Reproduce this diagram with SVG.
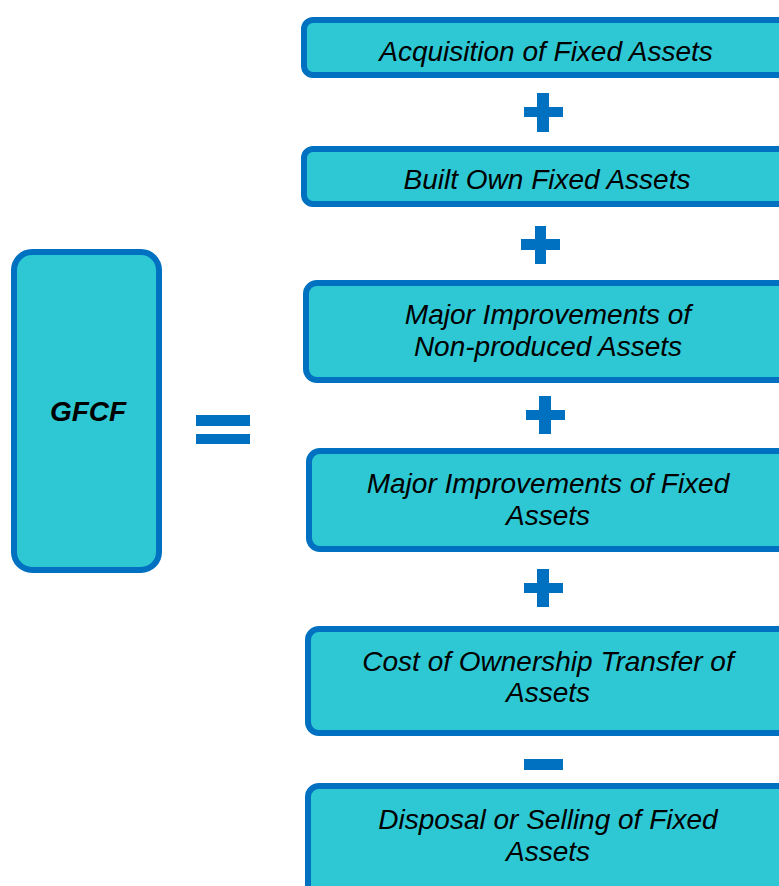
<svg xmlns="http://www.w3.org/2000/svg" width="779" height="886" viewBox="0 0 779 886">
<style>
.box{fill:#2EC8D4;stroke:#0070C0;stroke-width:6}
.op{fill:#0070C0}
.t{font-family:"Liberation Sans",Arial,sans-serif;font-style:italic;font-size:28px;fill:#000;text-anchor:middle}
.b{font-weight:bold}
</style>
<rect width="779" height="886" fill="#fff"/>
<g id="gfcf">
<rect class="box" x="14" y="252" width="145" height="318" rx="18"/>
<text class="t b" x="88" y="421">GFCF</text>
</g>
<g id="connectors">
<rect class="op" x="196" y="415" width="54" height="11"/>
<rect class="op" x="196" y="434" width="54" height="10"/>
<path class="op" d="M537 93h12v14h14v10h-14v15h-12v-15h-13v-10h13z"/>
<path class="op" d="M535 226h11v13h14v11h-14v14h-11v-14h-14v-11h14z"/>
<path class="op" d="M539 396h12v14h14v10h-14v14h-12v-14h-13v-10h13z"/>
<path class="op" d="M537 569h12v14h14v10h-14v14h-12v-14h-13v-10h13z"/>
<rect class="op" x="524" y="759" width="39" height="11"/>
</g>
<g id="n1">
<rect class="box" x="304" y="20" width="500" height="55" rx="9"/>
<text class="t" x="546" y="61">Acquisition of Fixed Assets</text>
</g>
<g id="n2">
<rect class="box" x="304" y="149" width="500" height="55" rx="9"/>
<text class="t" x="547" y="189">Built Own Fixed Assets</text>
</g>
<g id="n3">
<rect class="box" x="306" y="283" width="500" height="97" rx="11"/>
<text class="t" x="548" y="324">Major Improvements of</text>
<text class="t" x="548" y="356">Non-produced Assets</text>
</g>
<g id="n4">
<rect class="box" x="309" y="451" width="500" height="98" rx="11"/>
<text class="t" x="548" y="493">Major Improvements of Fixed</text>
<text class="t" x="548" y="525">Assets</text>
</g>
<g id="n5">
<rect class="box" x="308" y="629" width="500" height="104" rx="11"/>
<text class="t" x="548" y="671">Cost of Ownership Transfer of</text>
<text class="t" x="548" y="702">Assets</text>
</g>
<g id="n6">
<rect class="box" x="308" y="786" width="500" height="130" rx="11"/>
<text class="t" x="548" y="829">Disposal or Selling of Fixed</text>
<text class="t" x="548" y="861">Assets</text>
</g>
</svg>
